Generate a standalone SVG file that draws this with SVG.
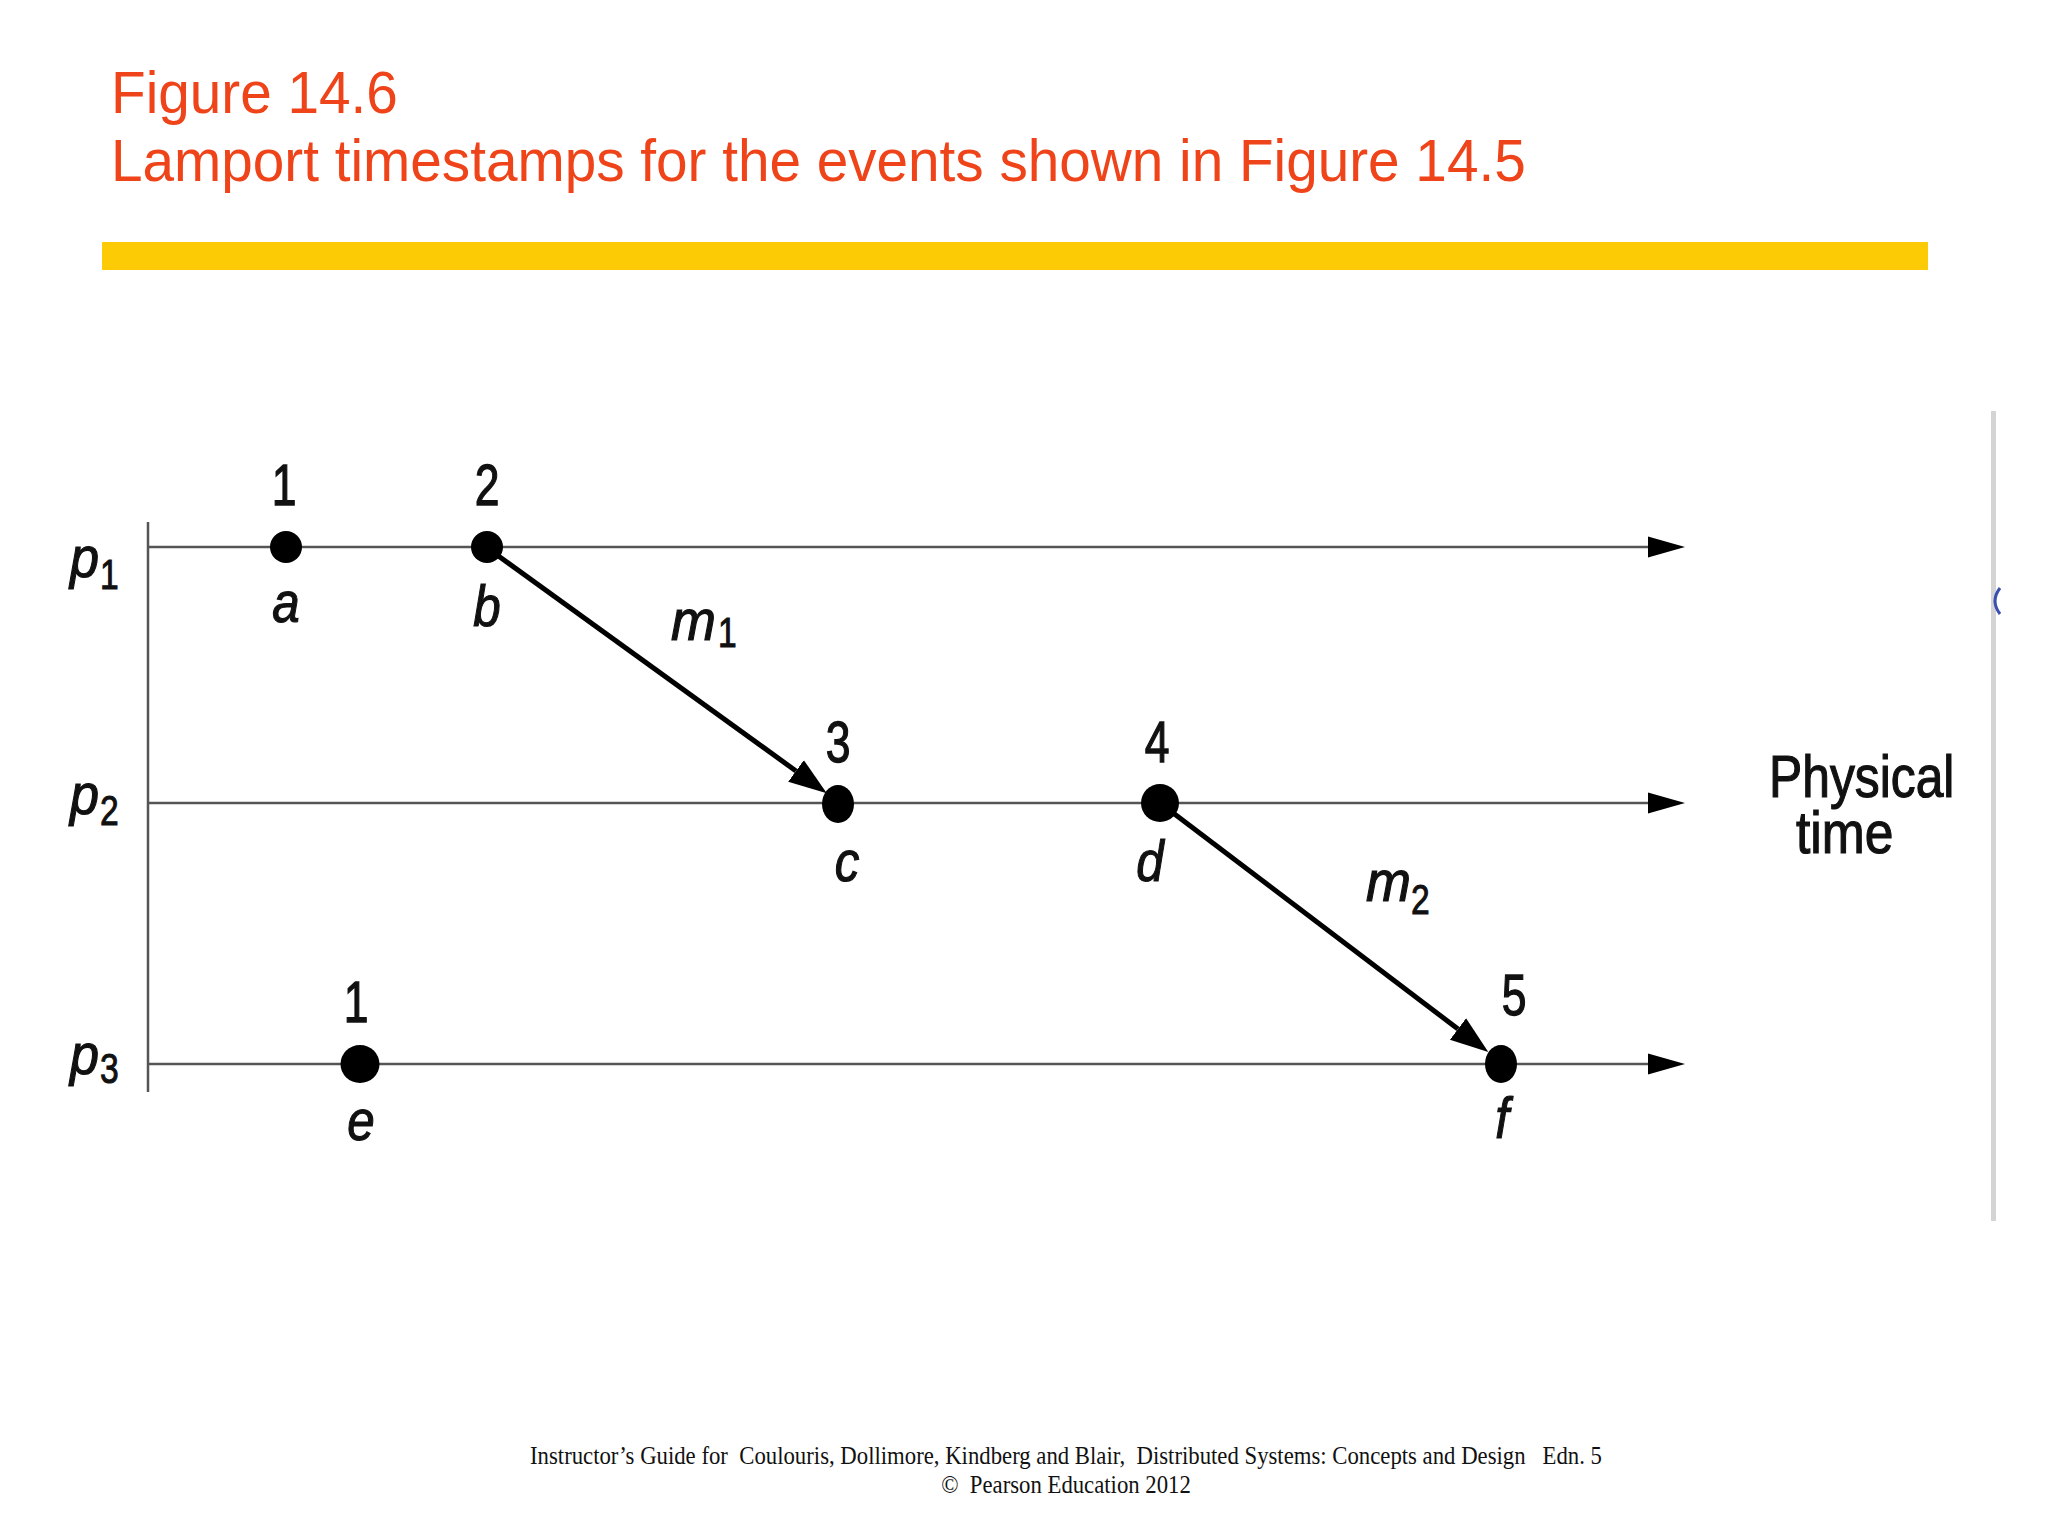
<svg xmlns="http://www.w3.org/2000/svg" width="2048" height="1536" viewBox="0 0 2048 1536">
<style>
.title{font-family:"Liberation Sans",Arial,sans-serif;font-size:60px;fill:#EF4319}
.num{font-family:"Liberation Sans",Arial,sans-serif;font-size:57px;fill:#111;stroke:#111;stroke-width:1.3}
.lbl{font-family:"Liberation Sans",Arial,sans-serif;font-size:58px;font-style:italic;fill:#111;stroke:#111;stroke-width:1.2}
.sub{font-family:"Liberation Sans",Arial,sans-serif;font-size:42px;fill:#111;stroke:#111;stroke-width:1}
.pt{font-family:"Liberation Sans",Arial,sans-serif;font-size:60px;fill:#111;stroke:#111;stroke-width:1.2}
.foot{font-family:"Liberation Serif","Times New Roman",serif;font-size:25px;fill:#111;white-space:pre}
.dot{fill:#000}
.axis{stroke:#555;stroke-width:2.5;fill:none}
.msg{stroke:#000;stroke-width:5;fill:none}
</style>
<defs>
<marker id="tl" markerUnits="userSpaceOnUse" markerWidth="40" markerHeight="24" viewBox="0 -12 40 24" refX="0" refY="0" orient="auto">
<path d="M0,-10.5 L37,0 L0,10.5 Z" fill="#000"/>
</marker>
<marker id="ma" markerUnits="userSpaceOnUse" markerWidth="40" markerHeight="30" viewBox="0 -15 40 30" refX="0" refY="0" orient="auto">
<path d="M0,-13.4 L38,0 L0,13.4 Z" fill="#000"/>
</marker>
</defs>
<rect width="2048" height="1536" fill="#fff"/>

<g id="title">
<text class="title" transform="translate(111,113) scale(0.945,1)">Figure 14.6</text>
<text class="title" transform="translate(111,181) scale(0.945,1)">Lamport timestamps for the events shown in Figure 14.5</text>
</g>
<rect id="bar" x="102" y="242" width="1826" height="28" fill="#FDCA06"/>

<g id="frame">
<rect x="1991" y="411" width="5" height="810" fill="#d4d4d4"/>
<path d="M2000,588 Q1990,601 2000,614" stroke="#3a4fb0" stroke-width="3" fill="none"/>
</g>

<g id="connectors">
<line class="axis" x1="148" y1="522" x2="148" y2="1092"/>
<line class="axis" x1="148" y1="547" x2="1648" y2="547" marker-end="url(#tl)"/>
<line class="axis" x1="148" y1="803" x2="1648" y2="803" stroke="#333" marker-end="url(#tl)"/>
<line class="axis" x1="148" y1="1064" x2="1648" y2="1064" marker-end="url(#tl)"/>
<line class="msg" x1="486" y1="547" x2="796" y2="771" marker-end="url(#ma)"/>
<line class="msg" x1="1160" y1="803" x2="1458" y2="1029" marker-end="url(#ma)"/>
</g>

<g id="processes">
<g id="p1"><text class="lbl" transform="translate(70,577) scale(0.9,1)">p</text><text class="sub" transform="translate(100,589) scale(0.8,1)">1</text></g>
<g id="p2"><text class="lbl" transform="translate(70,814) scale(0.9,1)">p</text><text class="sub" transform="translate(100,825) scale(0.8,1)">2</text></g>
<g id="p3"><text class="lbl" transform="translate(70,1074) scale(0.9,1)">p</text><text class="sub" transform="translate(100,1083) scale(0.8,1)">3</text></g>
</g>

<g id="event-a">
<ellipse class="dot" cx="286" cy="547" rx="16" ry="16"/>
<text class="num" text-anchor="middle" transform="translate(284,505) scale(0.78,1)">1</text>
<text class="lbl" text-anchor="middle" transform="translate(286,622) scale(0.85,1)">a</text>
</g>
<g id="event-b">
<ellipse class="dot" cx="487" cy="547" rx="16" ry="16"/>
<text class="num" text-anchor="middle" transform="translate(487,505) scale(0.78,1)">2</text>
<text class="lbl" text-anchor="middle" transform="translate(487,626) scale(0.85,1)">b</text>
</g>
<g id="event-c">
<ellipse class="dot" cx="838" cy="804" rx="16" ry="19"/>
<text class="num" text-anchor="middle" transform="translate(838,762) scale(0.78,1)">3</text>
<text class="lbl" text-anchor="middle" transform="translate(847,881) scale(0.85,1)">c</text>
</g>
<g id="event-d">
<ellipse class="dot" cx="1160" cy="803" rx="19" ry="19"/>
<text class="num" text-anchor="middle" transform="translate(1157,762) scale(0.78,1)">4</text>
<text class="lbl" text-anchor="middle" transform="translate(1150,881) scale(0.85,1)">d</text>
</g>
<g id="event-e">
<ellipse class="dot" cx="360" cy="1064" rx="19.5" ry="19"/>
<text class="num" text-anchor="middle" transform="translate(356,1022) scale(0.78,1)">1</text>
<text class="lbl" text-anchor="middle" transform="translate(361,1140) scale(0.85,1)">e</text>
</g>
<g id="event-f">
<ellipse class="dot" cx="1501" cy="1064" rx="16" ry="19"/>
<text class="num" text-anchor="middle" transform="translate(1514,1015) scale(0.78,1)">5</text>
<text class="lbl" text-anchor="middle" transform="translate(1502,1138) scale(0.85,1)">f</text>
</g>

<g id="label-m1"><text class="lbl" transform="translate(671,640) scale(0.93,1)">m</text><text class="sub" transform="translate(718,647) scale(0.8,1)">1</text></g>
<g id="label-m2"><text class="lbl" transform="translate(1366,901) scale(0.93,1)">m</text><text class="sub" transform="translate(1411,914) scale(0.8,1)">2</text></g>

<g id="physical-time">
<text class="pt" transform="translate(1769,797) scale(0.83,1)">Physical</text>
<text class="pt" transform="translate(1796,853) scale(0.86,1)">time</text>
</g>

<g id="footer">
<text class="foot" text-anchor="middle" transform="translate(1066,1464) scale(0.91,1)">Instructor’s Guide for  Coulouris, Dollimore, Kindberg and Blair,  Distributed Systems: Concepts and Design   Edn. 5</text>
<text class="foot" text-anchor="middle" transform="translate(1066,1493) scale(0.91,1)">©  Pearson Education 2012</text>
</g>
</svg>
